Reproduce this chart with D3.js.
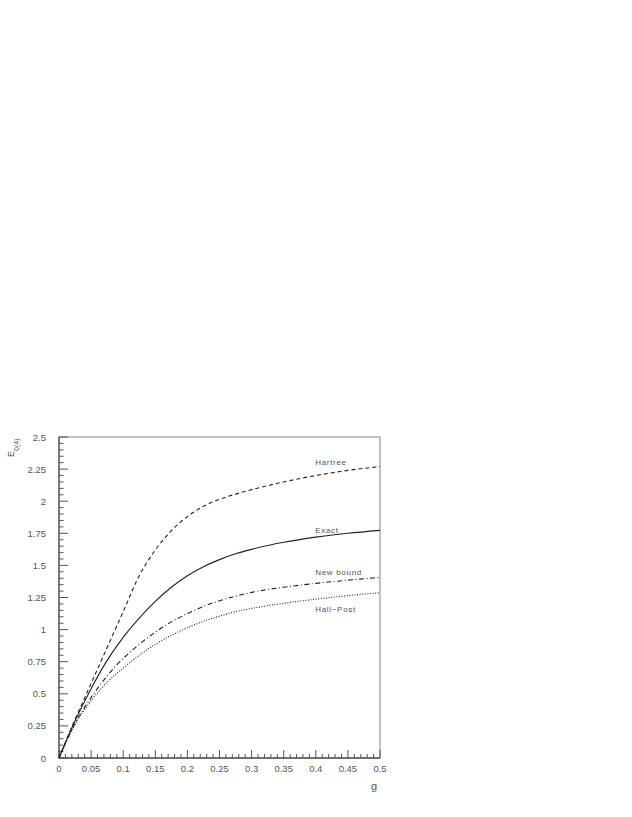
<!DOCTYPE html>
<html>
<head>
<meta charset="utf-8">
<script src="https://cdn.jsdelivr.net/npm/d3@7"></script>
<style>
  body { margin: 0; background: #fff; }
  text { font-family: "Liberation Sans", Arial, sans-serif; fill: #555; }
</style>
</head>
<body>
<svg id="chart" width="632" height="817"></svg>
<script>
// values
var gVals    = [0, 0.025, 0.05, 0.075, 0.1, 0.125, 0.15, 0.175, 0.2, 0.225, 0.25, 0.275, 0.3, 0.35, 0.4, 0.45, 0.5];
var hartree  = [0, 0.30, 0.58, 0.86, 1.14, 1.42, 1.62, 1.77, 1.88, 1.96, 2.015, 2.055, 2.09, 2.15, 2.20, 2.24, 2.27];
var exact    = [0, 0.29, 0.54, 0.76, 0.94, 1.09, 1.22, 1.33, 1.42, 1.49, 1.545, 1.59, 1.625, 1.68, 1.72, 1.75, 1.773];
var newBound = [0, 0.27, 0.47, 0.64, 0.775, 0.885, 0.98, 1.06, 1.125, 1.18, 1.225, 1.26, 1.29, 1.33, 1.36, 1.385, 1.407];
var hallPost = [0, 0.26, 0.445, 0.59, 0.70, 0.80, 0.885, 0.955, 1.015, 1.065, 1.105, 1.14, 1.165, 1.205, 1.237, 1.265, 1.287];

var xTicks = [0, 0.05, 0.1, 0.15, 0.2, 0.25, 0.3, 0.35, 0.4, 0.45, 0.5];
var yTicks = [0, 0.25, 0.5, 0.75, 1, 1.25, 1.5, 1.75, 2, 2.25, 2.5];

var series = [
  {name: "Hartree",        vals: hartree,  dash: "4,3",         lab: 2.285},
  {name: "Exact",          vals: exact,    dash: null,          lab: 1.755},
  {name: "New bound",      vals: newBound, dash: "5,2.5,1,2.5", lab: 1.425},
  {name: "Hall\u2212Post", vals: hallPost, dash: "1,1.6",       lab: 1.14}
];

var svg = d3.select("#chart");
var pLeft = 59, pTop = 437, pW = 321, pH = 321;

var x = d3.scaleLinear().domain([0, 0.5]).range([pLeft, pLeft + pW]);
var y = d3.scaleLinear().domain([0, 2.5]).range([pTop + pH, pTop]);

// frame
svg.append("rect")
    .attr("x", pLeft).attr("y", pTop)
    .attr("width", pW).attr("height", pH)
    .attr("fill", "none").attr("stroke", "#999").attr("stroke-width", 1.2);

var axColor = "#555";

// x axis: ticks point up into the plot
var gx = svg.append("g").attr("transform", "translate(0," + (pTop + pH) + ")");
gx.append("line").attr("x1", pLeft).attr("x2", pLeft + pW).attr("stroke", axColor).attr("stroke-width", 1.3);
gx.selectAll(".minor").data(d3.range(0, 51).map(function(i) { return i / 100; }))
  .enter().append("line")
    .attr("x1", function(d) { return x(d); }).attr("x2", function(d) { return x(d); })
    .attr("y1", 0).attr("y2", function(d, i) { return i % 5 === 0 ? -8 : -4; })
    .attr("stroke", axColor);
gx.selectAll(".lab").data(xTicks).enter().append("text")
    .attr("x", function(d) { return x(d); }).attr("y", 13.5)
    .attr("text-anchor", "middle").attr("font-size", 9.5)
    .text(function(d) { return d; });

// y axis: ticks point right into the plot
var gy = svg.append("g").attr("transform", "translate(" + pLeft + ",0)");
gy.append("line").attr("y1", pTop).attr("y2", pTop + pH).attr("stroke", axColor).attr("stroke-width", 1.3);
gy.selectAll(".minor").data(d3.range(0, 51).map(function(i) { return i * 0.05; }))
  .enter().append("line")
    .attr("y1", function(d) { return y(d); }).attr("y2", function(d) { return y(d); })
    .attr("x1", 0).attr("x2", function(d, i) { return i % 5 === 0 ? 9 : 4.5; })
    .attr("stroke", axColor);
gy.selectAll(".lab").data(yTicks).enter().append("text")
    .attr("x", -13).attr("y", function(d) { return y(d) + 3.5; })
    .attr("text-anchor", "end").attr("font-size", 9.5)
    .text(function(d) { return d; });

// axis titles
svg.append("text")
    .attr("x", 374).attr("y", 790)
    .attr("font-size", 11).attr("text-anchor", "middle")
    .text("g");
var yt = svg.append("text")
    .attr("transform", "translate(14,457) rotate(-90)")
    .attr("font-size", 9);
yt.append("tspan").text("E");
yt.append("tspan").attr("dy", 4.5).attr("font-size", 7).text("0(4)");

// curves
var line = d3.line()
    .x(function(d) { return x(d[0]); })
    .y(function(d) { return y(d[1]); })
    .curve(d3.curveMonotoneX);

series.forEach(function(s) {
  var pts = gVals.map(function(g, i) { return [g, s.vals[i]]; });
  svg.append("path")
      .attr("d", line(pts))
      .attr("fill", "none")
      .attr("stroke", "#222")
      .attr("stroke-width", 1.1)
      .attr("stroke-dasharray", s.dash);
  svg.append("text")
      .attr("x", x(0.399)).attr("y", y(s.lab))
      .attr("font-size", 8)
      .attr("letter-spacing", 0.7)
      .text(s.name);
});
</script>
</body>
</html>
